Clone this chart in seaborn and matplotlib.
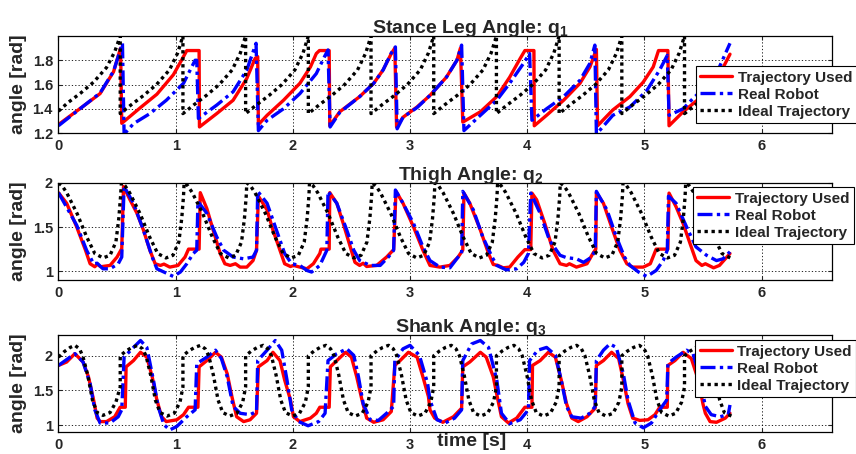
import matplotlib
matplotlib.use("Agg")
import matplotlib.pyplot as plt
import seaborn as sns

# ---------------- data ----------------
LEGEND_LABELS = ["Trajectory Used", "Real Robot", "Ideal Trajectory"]
TITLES = ["Stance Leg Angle: q$_1$", "Thigh Angle: q$_2$", "Shank Angle: q$_3$"]
X_TICKS = [0, 1, 2, 3, 4, 5, 6]
Y_TICKS_1 = [1.2, 1.4, 1.6, 1.8]
Y_TICKS_2 = [1, 1.5, 2]
Y_TICKS_3 = [1, 1.5, 2]
Y_TICKLABELS_1 = ["1.2", "1.4", "1.6", "1.8"]
Y_TICKLABELS_2 = ["1", "1.5", "2"]
Y_TICKLABELS_3 = ["1", "1.5", "2"]

# ---- q1 : stance leg ----
t_used_q1 = [0.00, 0.21, 0.355, 0.47, 0.53, 0.54, 0.70, 0.84, 0.98, 1.05, 1.095, 1.20, 1.203,
             1.35, 1.49, 1.607, 1.678, 1.70, 1.706, 1.78, 1.92, 2.06, 2.15, 2.20, 2.227, 2.31,
             2.315, 2.40, 2.57, 2.69, 2.77, 2.84, 2.87, 2.885, 2.94, 3.06, 3.17, 3.31, 3.40,
             3.43, 3.45, 3.60, 3.74, 3.85, 3.94, 3.98, 4.057, 4.06, 4.165, 4.31, 4.45, 4.535,
             4.59, 4.60, 4.73, 4.876, 4.99, 5.075, 5.12, 5.20, 5.21, 5.33, 5.45, 5.55, 5.65, 5.73]
v_used_q1 = [1.27, 1.42, 1.525, 1.705, 1.90, 1.28, 1.41, 1.52, 1.68, 1.80, 1.88, 1.88, 1.25,
             1.36, 1.47, 1.65, 1.815, 1.83, 1.27, 1.346, 1.47, 1.61, 1.745, 1.855, 1.88, 1.88,
             1.26, 1.375, 1.50, 1.61, 1.72, 1.855, 1.90, 1.25, 1.33, 1.415, 1.51, 1.66, 1.80,
             1.90, 1.29, 1.375, 1.50, 1.66, 1.815, 1.88, 1.88, 1.26, 1.346, 1.47, 1.61, 1.745,
             1.89, 1.26, 1.39, 1.50, 1.62, 1.745, 1.88, 1.88, 1.26, 1.375, 1.47, 1.58, 1.70, 1.85]

t_real_q1 = [0.00, 0.21, 0.355, 0.47, 0.546, 0.56, 0.64, 0.78, 0.92, 1.067, 1.166, 1.18, 1.194,
             1.35, 1.49, 1.607, 1.686, 1.706, 1.78, 1.92, 2.06, 2.20, 2.27, 2.30, 2.318, 2.40,
             2.57, 2.69, 2.77, 2.84, 2.875, 2.89, 2.94, 3.06, 3.17, 3.31, 3.40, 3.44, 3.46,
             3.60, 3.74, 3.85, 3.965, 4.02, 4.04, 4.165, 4.31, 4.45, 4.535, 4.577, 4.59, 4.73,
             4.876, 5.02, 5.13, 5.195, 5.21, 5.33, 5.415, 5.52, 5.64, 5.73]
v_real_q1 = [1.26, 1.42, 1.53, 1.71, 1.94, 1.19, 1.277, 1.36, 1.47, 1.61, 1.80, 1.80, 1.32,
             1.43, 1.54, 1.72, 1.94, 1.22, 1.305, 1.40, 1.525, 1.69, 1.83, 1.885, 1.25, 1.37,
             1.50, 1.61, 1.72, 1.86, 1.91, 1.235, 1.33, 1.41, 1.51, 1.66, 1.80, 1.925, 1.22,
             1.346, 1.47, 1.61, 1.77, 1.855, 1.305, 1.40, 1.50, 1.635, 1.775, 1.925, 1.19, 1.346,
             1.415, 1.55, 1.72, 1.84, 1.346, 1.40, 1.485, 1.58, 1.745, 1.94]

t_ideal_q1 = [0.00, 0.08, 0.19, 0.30, 0.41, 0.48,
              0.527, 0.527, 0.617, 0.727, 0.837, 0.947, 1.017,
              1.062, 1.062, 1.152, 1.262, 1.372, 1.482, 1.552,
              1.597, 1.597, 1.687, 1.797, 1.907, 2.017, 2.087,
              2.132, 2.132, 2.222, 2.332, 2.442, 2.552, 2.622,
              2.667, 2.667, 2.757, 2.867, 2.977, 3.087, 3.157,
              3.202, 3.202, 3.292, 3.402, 3.512, 3.622, 3.692,
              3.737, 3.737, 3.827, 3.937, 4.047, 4.157, 4.227,
              4.272, 4.272, 4.362, 4.472, 4.582, 4.692, 4.762,
              4.807, 4.807, 4.897, 5.007, 5.117, 5.227, 5.297,
              5.342, 5.342, 5.432, 5.542, 5.652, 5.750]
v_ideal_q1 = [1.38, 1.45, 1.53, 1.62, 1.74, 1.87,
              2.00, 1.36, 1.43, 1.51, 1.60, 1.72, 1.86,
              2.00, 1.36, 1.43, 1.51, 1.60, 1.72, 1.86,
              2.00, 1.36, 1.43, 1.51, 1.60, 1.72, 1.86,
              2.00, 1.36, 1.43, 1.51, 1.60, 1.72, 1.86,
              2.00, 1.36, 1.43, 1.51, 1.60, 1.72, 1.86,
              2.00, 1.36, 1.43, 1.51, 1.60, 1.72, 1.86,
              2.00, 1.36, 1.43, 1.51, 1.60, 1.72, 1.86,
              2.00, 1.36, 1.43, 1.51, 1.60, 1.72, 1.86,
              2.00, 1.36, 1.43, 1.51, 1.60, 1.72, 1.86,
              2.00, 1.36, 1.43, 1.51, 1.60, 1.70]

# ---- q2 : thigh ----
t_used_q2 = [0.00, 0.07, 0.156, 0.23, 0.27, 0.31, 0.33, 0.36, 0.44, 0.50, 0.54, 0.555, 0.61,
             0.67, 0.725, 0.78, 0.825, 0.87, 0.90, 0.95, 1.02, 1.08, 1.11, 1.20, 1.21, 1.266,
             1.32, 1.38, 1.42, 1.465, 1.51, 1.55, 1.607, 1.66, 1.69, 1.706, 1.78, 1.83, 1.89,
             1.93, 1.98, 2.005, 2.06, 2.12, 2.175, 2.23, 2.24, 2.31, 2.315, 2.375, 2.43, 2.49,
             2.53, 2.57, 2.60, 2.63, 2.715, 2.80, 2.86, 2.88, 2.94, 3.03, 3.11, 3.17, 3.255,
             3.34, 3.41, 3.45, 3.46, 3.51, 3.60, 3.67, 3.71, 3.75, 3.795, 3.85, 3.92, 3.98,
             4.03, 4.04, 4.08, 4.15, 4.22, 4.28, 4.335, 4.36, 4.42, 4.51, 4.56, 4.585, 4.59,
             4.65, 4.72, 4.79, 4.85, 4.90, 4.99, 5.05, 5.10, 5.20, 5.21, 5.27, 5.33, 5.39,
             5.44, 5.49, 5.52, 5.59, 5.64, 5.73]
v_used_q2 = [1.89, 1.77, 1.50, 1.24, 1.084, 1.05, 1.08, 1.05, 1.065, 1.16, 1.256, 1.96, 1.81,
             1.656, 1.466, 1.237, 1.084, 1.065, 1.08, 1.046, 1.065, 1.16, 1.25, 1.25, 1.89, 1.71,
             1.466, 1.20, 1.084, 1.065, 1.084, 1.046, 1.046, 1.12, 1.237, 1.85, 1.695, 1.466, 1.237,
             1.084, 1.053, 1.065, 1.046, 1.027, 1.084, 1.20, 1.25, 1.25, 1.89, 1.77, 1.54, 1.275,
             1.10, 1.065, 1.09, 1.053, 1.065, 1.16, 1.244, 1.905, 1.77, 1.50, 1.237, 1.065, 1.046,
             1.065, 1.16, 1.24, 1.885, 1.77, 1.466, 1.20, 1.076, 1.065, 1.038, 1.046, 1.16, 1.244,
             1.244, 1.885, 1.81, 1.54, 1.237, 1.084, 1.065, 1.084, 1.046, 1.084, 1.20, 1.25, 1.89,
             1.77, 1.50, 1.237, 1.084, 1.046, 1.046, 1.084, 1.25, 1.25, 1.885, 1.73, 1.54, 1.31,
             1.12, 1.065, 1.084, 1.038, 1.065, 1.20]

t_real_q2 = [0.00, 0.156, 0.24, 0.30, 0.33, 0.38, 0.44, 0.51, 0.54, 0.56, 0.64, 0.725, 0.80,
             0.84, 0.90, 0.98, 1.04, 1.095, 1.15, 1.18, 1.19, 1.266, 1.35, 1.41, 1.49, 1.58,
             1.66, 1.69, 1.70, 1.78, 1.86, 1.93, 1.99, 2.06, 2.12, 2.16, 2.23, 2.29, 2.30,
             2.375, 2.46, 2.52, 2.57, 2.66, 2.745, 2.815, 2.86, 2.875, 2.94, 3.03, 3.11, 3.17,
             3.255, 3.34, 3.41, 3.44, 3.45, 3.54, 3.62, 3.70, 3.74, 3.82, 3.91, 3.97, 4.01,
             4.03, 4.11, 4.19, 4.28, 4.335, 4.42, 4.48, 4.55, 4.58, 4.59, 4.68, 4.76, 4.83,
             4.876, 4.95, 5.02, 5.10, 5.16, 5.195, 5.205, 5.27, 5.36, 5.44, 5.53, 5.615, 5.67, 5.73]
v_real_q2 = [1.89, 1.52, 1.237, 1.084, 1.09, 1.027, 1.027, 1.084, 1.16, 1.96, 1.77, 1.466, 1.16,
             1.027, 0.99, 0.94, 0.99, 1.084, 1.20, 1.237, 1.79, 1.656, 1.39, 1.237, 1.16, 1.14,
             1.16, 1.237, 1.905, 1.77, 1.466, 1.20, 1.084, 1.065, 1.008, 0.99, 1.065, 1.237, 1.905,
             1.77, 1.466, 1.237, 1.12, 1.065, 1.065, 1.16, 1.237, 1.92, 1.77, 1.54, 1.275, 1.12,
             1.046, 1.038, 1.16, 1.20, 1.905, 1.695, 1.39, 1.16, 1.065, 1.015, 1.027, 1.10, 1.20,
             1.885, 1.656, 1.35, 1.18, 1.153, 1.14, 1.10, 1.16, 1.237, 1.905, 1.695, 1.39, 1.16,
             1.065, 0.99, 0.94, 1.008, 1.12, 1.237, 1.85, 1.77, 1.50, 1.275, 1.18, 1.12, 1.14, 1.22]

t_ideal_q2 = [0.000, 0.030, 0.070, 0.160, 0.240, 0.310, 0.380, 0.440, 0.490, 0.515, 0.530,
              0.537, 0.567, 0.607, 0.697, 0.777, 0.847, 0.917, 0.977, 1.027, 1.052, 1.067,
              1.072, 1.102, 1.142, 1.232, 1.312, 1.382, 1.452, 1.512, 1.562, 1.587, 1.602,
              1.607, 1.637, 1.677, 1.767, 1.847, 1.917, 1.987, 2.047, 2.097, 2.122, 2.137,
              2.142, 2.172, 2.212, 2.302, 2.382, 2.452, 2.522, 2.582, 2.632, 2.657, 2.672,
              2.677, 2.707, 2.747, 2.837, 2.917, 2.987, 3.057, 3.117, 3.167, 3.192, 3.207,
              3.212, 3.242, 3.282, 3.372, 3.452, 3.522, 3.592, 3.652, 3.702, 3.727, 3.742,
              3.747, 3.777, 3.817, 3.907, 3.987, 4.057, 4.127, 4.187, 4.237, 4.262, 4.277,
              4.282, 4.312, 4.352, 4.442, 4.522, 4.592, 4.662, 4.722, 4.772, 4.797, 4.812,
              4.817, 4.847, 4.887, 4.977, 5.057, 5.127, 5.197, 5.257, 5.307, 5.332, 5.347,
              5.352, 5.382, 5.422, 5.512, 5.592, 5.662, 5.732, 5.750]
v_ideal_q2 = [2.00, 1.97, 1.89, 1.65, 1.39, 1.20, 1.15, 1.18, 1.33, 1.60, 1.85,
              2.00, 1.97, 1.89, 1.65, 1.39, 1.20, 1.15, 1.18, 1.33, 1.60, 1.85,
              2.00, 1.97, 1.89, 1.65, 1.39, 1.20, 1.15, 1.18, 1.33, 1.60, 1.85,
              2.00, 1.97, 1.89, 1.65, 1.39, 1.20, 1.15, 1.18, 1.33, 1.60, 1.85,
              2.00, 1.97, 1.89, 1.65, 1.39, 1.20, 1.15, 1.18, 1.33, 1.60, 1.85,
              2.00, 1.97, 1.89, 1.65, 1.39, 1.20, 1.15, 1.18, 1.33, 1.60, 1.85,
              2.00, 1.97, 1.89, 1.65, 1.39, 1.20, 1.15, 1.18, 1.33, 1.60, 1.85,
              2.00, 1.97, 1.89, 1.65, 1.39, 1.20, 1.15, 1.18, 1.33, 1.60, 1.85,
              2.00, 1.97, 1.89, 1.65, 1.39, 1.20, 1.15, 1.18, 1.33, 1.60, 1.85,
              2.00, 1.97, 1.89, 1.65, 1.39, 1.20, 1.15, 1.18, 1.33, 1.60, 1.85,
              2.00, 1.97, 1.89, 1.65, 1.39, 1.20, 1.15, 1.15]

# ---- q3 : shank ----
t_used_q3 = [0.00, 0.07, 0.14, 0.21, 0.256, 0.30, 0.33, 0.355, 0.41, 0.48, 0.526, 0.57, 0.577,
             0.64, 0.70, 0.754, 0.80, 0.84, 0.88, 0.92, 1.01, 1.067, 1.11, 1.19, 1.20, 1.266,
             1.34, 1.39, 1.44, 1.48, 1.52, 1.58, 1.635, 1.69, 1.706, 1.78, 1.83, 1.89, 1.93,
             1.98, 2.005, 2.06, 2.15, 2.20, 2.23, 2.31, 2.32, 2.375, 2.45, 2.50, 2.545, 2.59,
             2.63, 2.69, 2.77, 2.84, 2.87, 2.915, 2.986, 3.06, 3.11, 3.157, 3.17, 3.21, 3.28,
             3.37, 3.44, 3.45, 3.51, 3.60, 3.65, 3.71, 3.75, 3.78, 3.84, 3.91, 3.98, 4.04,
             4.045, 4.11, 4.18, 4.24, 4.29, 4.335, 4.38, 4.435, 4.51, 4.58, 4.59, 4.65, 4.72,
             4.78, 4.82, 4.86, 4.90, 4.96, 5.03, 5.09, 5.13, 5.195, 5.20, 5.26, 5.33, 5.40,
             5.46, 5.50, 5.52, 5.56, 5.615, 5.69, 5.73]
v_used_q3 = [1.86, 1.91, 2.03, 1.91, 1.695, 1.36, 1.10, 1.05, 1.05, 1.12, 1.257, 1.257, 1.84,
             1.93, 2.05, 1.98, 1.695, 1.36, 1.12, 1.05, 1.076, 1.15, 1.257, 1.257, 1.84, 1.93,
             2.05, 1.98, 1.74, 1.41, 1.12, 1.05, 1.076, 1.17, 1.84, 1.93, 2.05, 1.93, 1.65,
             1.36, 1.12, 1.05, 1.10, 1.17, 1.257, 1.257, 1.84, 1.93, 2.05, 1.98, 1.695, 1.36,
             1.10, 1.04, 1.076, 1.195, 1.86, 1.93, 2.05, 1.98, 1.695, 1.41, 1.22, 1.10, 1.04,
             1.12, 1.243, 1.84, 1.91, 2.05, 1.98, 1.695, 1.36, 1.12, 1.03, 1.10, 1.257, 1.257,
             1.86, 1.93, 2.05, 1.98, 1.65, 1.31, 1.10, 1.05, 1.12, 1.243, 1.86, 1.93, 2.05,
             1.96, 1.65, 1.31, 1.10, 1.067, 1.076, 1.15, 1.257, 1.257, 1.86, 1.93, 2.05, 1.96,
             1.65, 1.30, 1.17, 1.05, 1.04, 1.10, 1.17]

t_real_q3 = [0.00, 0.14, 0.21, 0.27, 0.31, 0.355, 0.44, 0.51, 0.54, 0.56, 0.64, 0.70, 0.754,
             0.81, 0.85, 0.90, 0.95, 1.01, 1.095, 1.166, 1.18, 1.266, 1.34, 1.39, 1.44, 1.49,
             1.55, 1.635, 1.69, 1.70, 1.78, 1.85, 1.905, 1.95, 1.99, 2.05, 2.13, 2.22, 2.275,
             2.30, 2.375, 2.46, 2.52, 2.56, 2.60, 2.66, 2.73, 2.80, 2.86, 2.87, 2.94, 3.00,
             3.08, 3.15, 3.17, 3.23, 3.30, 3.38, 3.44, 3.45, 3.525, 3.60, 3.67, 3.74, 3.78,
             3.85, 3.94, 4.01, 4.02, 4.09, 4.165, 4.24, 4.29, 4.335, 4.38, 4.46, 4.535, 4.58,
             4.59, 4.65, 4.705, 4.76, 4.82, 4.86, 4.92, 4.99, 5.06, 5.13, 5.19, 5.20, 5.27,
             5.36, 5.415, 5.47, 5.52, 5.57, 5.645, 5.715, 5.73]
v_real_q3 = [1.86, 2.03, 1.91, 1.60, 1.22, 1.03, 1.03, 1.12, 1.22, 1.98, 2.12, 2.22, 2.12,
             1.65, 1.27, 1.005, 0.93, 0.98, 1.12, 1.22, 1.886, 1.98, 2.08, 1.96, 1.695, 1.27,
             1.17, 1.15, 1.195, 1.93, 2.08, 2.22, 2.08, 1.65, 1.22, 1.05, 0.99, 1.05, 1.17,
             1.93, 2.03, 2.10, 2.005, 1.695, 1.31, 1.076, 1.067, 1.17, 1.27, 1.93, 2.10, 2.15,
             2.005, 1.60, 1.36, 1.076, 1.03, 1.10, 1.22, 1.93, 2.17, 2.22, 2.12, 1.65, 1.17,
             1.02, 1.076, 1.22, 1.93, 2.08, 2.12, 2.01, 1.65, 1.27, 1.12, 1.10, 1.17, 1.27,
             1.93, 2.08, 2.17, 2.12, 1.74, 1.36, 1.03, 0.96, 1.03, 1.22, 1.36, 1.886, 1.98,
             2.08, 2.03, 1.70, 1.27, 1.15, 1.12, 1.15, 1.29]

t_ideal_q3 = [0.000, 0.050, 0.100, 0.140, 0.180, 0.210, 0.250, 0.290, 0.330, 0.380, 0.440, 0.490,
              0.527, 0.527, 0.577, 0.627, 0.677, 0.717, 0.747, 0.787, 0.827, 0.867, 0.927, 0.987, 1.037,
              1.062, 1.062, 1.112, 1.162, 1.212, 1.252, 1.282, 1.322, 1.362, 1.402, 1.462, 1.522, 1.572,
              1.597, 1.597, 1.647, 1.697, 1.747, 1.787, 1.817, 1.857, 1.897, 1.937, 1.997, 2.057, 2.107,
              2.132, 2.132, 2.182, 2.232, 2.282, 2.322, 2.352, 2.392, 2.432, 2.472, 2.532, 2.592, 2.642,
              2.667, 2.667, 2.717, 2.767, 2.817, 2.857, 2.887, 2.927, 2.967, 3.007, 3.067, 3.127, 3.177,
              3.202, 3.202, 3.252, 3.302, 3.352, 3.392, 3.422, 3.462, 3.502, 3.542, 3.602, 3.662, 3.712,
              3.737, 3.737, 3.787, 3.837, 3.887, 3.927, 3.957, 3.997, 4.037, 4.077, 4.137, 4.197, 4.247,
              4.272, 4.272, 4.322, 4.372, 4.422, 4.462, 4.492, 4.532, 4.572, 4.612, 4.672, 4.732, 4.782,
              4.807, 4.807, 4.857, 4.907, 4.957, 4.997, 5.027, 5.067, 5.107, 5.147, 5.207, 5.267, 5.317,
              5.342, 5.342, 5.392, 5.442, 5.492, 5.532, 5.562, 5.602, 5.642, 5.682, 5.742]
v_ideal_q3 = [1.98, 2.06, 2.12, 2.15, 2.10, 1.98, 1.72, 1.36, 1.18, 1.14, 1.18, 1.33,
              1.55, 2.00, 2.07, 2.12, 2.15, 2.10, 2.00, 1.72, 1.36, 1.18, 1.13, 1.17, 1.33,
              1.55, 2.00, 2.07, 2.12, 2.15, 2.10, 2.00, 1.72, 1.36, 1.18, 1.13, 1.17, 1.33,
              1.55, 2.00, 2.07, 2.12, 2.15, 2.10, 2.00, 1.72, 1.36, 1.18, 1.13, 1.17, 1.33,
              1.55, 2.00, 2.07, 2.12, 2.15, 2.10, 2.00, 1.72, 1.36, 1.18, 1.13, 1.17, 1.33,
              1.55, 2.00, 2.07, 2.12, 2.15, 2.10, 2.00, 1.72, 1.36, 1.18, 1.13, 1.17, 1.33,
              1.55, 2.00, 2.07, 2.12, 2.15, 2.10, 2.00, 1.72, 1.36, 1.18, 1.13, 1.17, 1.33,
              1.55, 2.00, 2.07, 2.12, 2.15, 2.10, 2.00, 1.72, 1.36, 1.18, 1.13, 1.17, 1.33,
              1.55, 2.00, 2.07, 2.12, 2.15, 2.10, 2.00, 1.72, 1.36, 1.18, 1.13, 1.17, 1.33,
              1.55, 2.00, 2.07, 2.12, 2.15, 2.10, 2.00, 1.72, 1.36, 1.18, 1.13, 1.17, 1.33,
              1.55, 2.00, 2.07, 2.12, 2.15, 2.10, 2.00, 1.72, 1.36, 1.18, 1.13]

# ---------------- styling ----------------
sns.set_style("ticks")
plt.rcParams["font.family"] = ["Liberation Sans", "DejaVu Sans"]
plt.rcParams["font.weight"] = "bold"
plt.rcParams["mathtext.fontset"] = "custom"
plt.rcParams["mathtext.rm"] = "Liberation Sans:bold"
plt.rcParams["mathtext.it"] = "Liberation Sans:bold"
plt.rcParams["mathtext.bf"] = "Liberation Sans:bold"
plt.rcParams["mathtext.default"] = "bf"

fig = plt.figure(figsize=(8.56, 4.54), dpi=100)

panels = [
    dict(pos=[0.0683, 0.707, 0.9036, 0.2137], ylim=(1.2, 2.0),
         yt=Y_TICKS_1, ytl=Y_TICKLABELS_1, leg=(0.824, 0.69),
         data=(t_used_q1, v_used_q1, t_real_q1, v_real_q1, t_ideal_q1, v_ideal_q1)),
    dict(pos=[0.0683, 0.3833, 0.9036, 0.2137], ylim=(0.9, 2.0),
         yt=Y_TICKS_2, ytl=Y_TICKLABELS_2, leg=(0.820, 0.959),
         data=(t_used_q2, v_used_q2, t_real_q2, v_real_q2, t_ideal_q2, v_ideal_q2)),
    dict(pos=[0.0683, 0.0485, 0.9036, 0.2137], ylim=(0.9, 2.3),
         yt=Y_TICKS_3, ytl=Y_TICKLABELS_3, leg=(0.823, 0.948),
         data=(t_used_q3, v_used_q3, t_real_q3, v_real_q3, t_ideal_q3, v_ideal_q3)),
]

LW = 2.4
for i, p in enumerate(panels):
    ax = fig.add_axes(p["pos"])
    tu, vu, tr, vr, ti, vi = p["data"]
    sns.lineplot(x=tu, y=vu, ax=ax, color="#ff0000", lw=LW, estimator=None, sort=False,
                 label=LEGEND_LABELS[0])
    sns.lineplot(x=tr, y=vr, ax=ax, color="#0000ff", lw=LW, estimator=None, sort=False,
                 linestyle=(0, (4.5, 1.3, 1.0, 1.3)), label=LEGEND_LABELS[1])
    sns.lineplot(x=ti, y=vi, ax=ax, color="black", lw=LW, estimator=None, sort=False,
                 linestyle=(0, (1.0, 1.1)), label=LEGEND_LABELS[2])

    ax.set_xlim(0, 6.6)
    ax.set_ylim(*p["ylim"])
    ax.set_xticks(X_TICKS)
    ax.set_xticklabels([str(v) for v in X_TICKS])
    ax.set_yticks(p["yt"])
    ax.set_yticklabels(p["ytl"])
    ax.grid(True, color="black", linestyle=(0, (1.5, 2.5)), linewidth=0.6)
    ax.tick_params(direction="in", length=3, width=0.8, labelsize=10.5, pad=4,
                   top=True, right=True)
    for s in ax.spines.values():
        s.set_visible(True)
        s.set_color("black")
        s.set_linewidth(0.9)
    ax.set_xlabel("")
    ax.set_ylabel("angle [rad]", fontsize=14, fontweight="bold", labelpad=4)
    ax.set_title(TITLES[i], fontsize=14, fontweight="bold", pad=2, x=0.533)

    leg = ax.legend(loc="upper left", bbox_to_anchor=p["leg"], fontsize=11,
                    frameon=True, fancybox=False, edgecolor="black", framealpha=1,
                    borderpad=0.3, labelspacing=0.2, handlelength=2.1,
                    handletextpad=0.35, borderaxespad=0.0)
    leg.get_frame().set_linewidth(0.8)

fig.text(472 / 856, 1 - 442 / 454, "time [s]", ha="center", va="center",
         fontsize=14, fontweight="bold")

fig.savefig("out.png", dpi=100)
